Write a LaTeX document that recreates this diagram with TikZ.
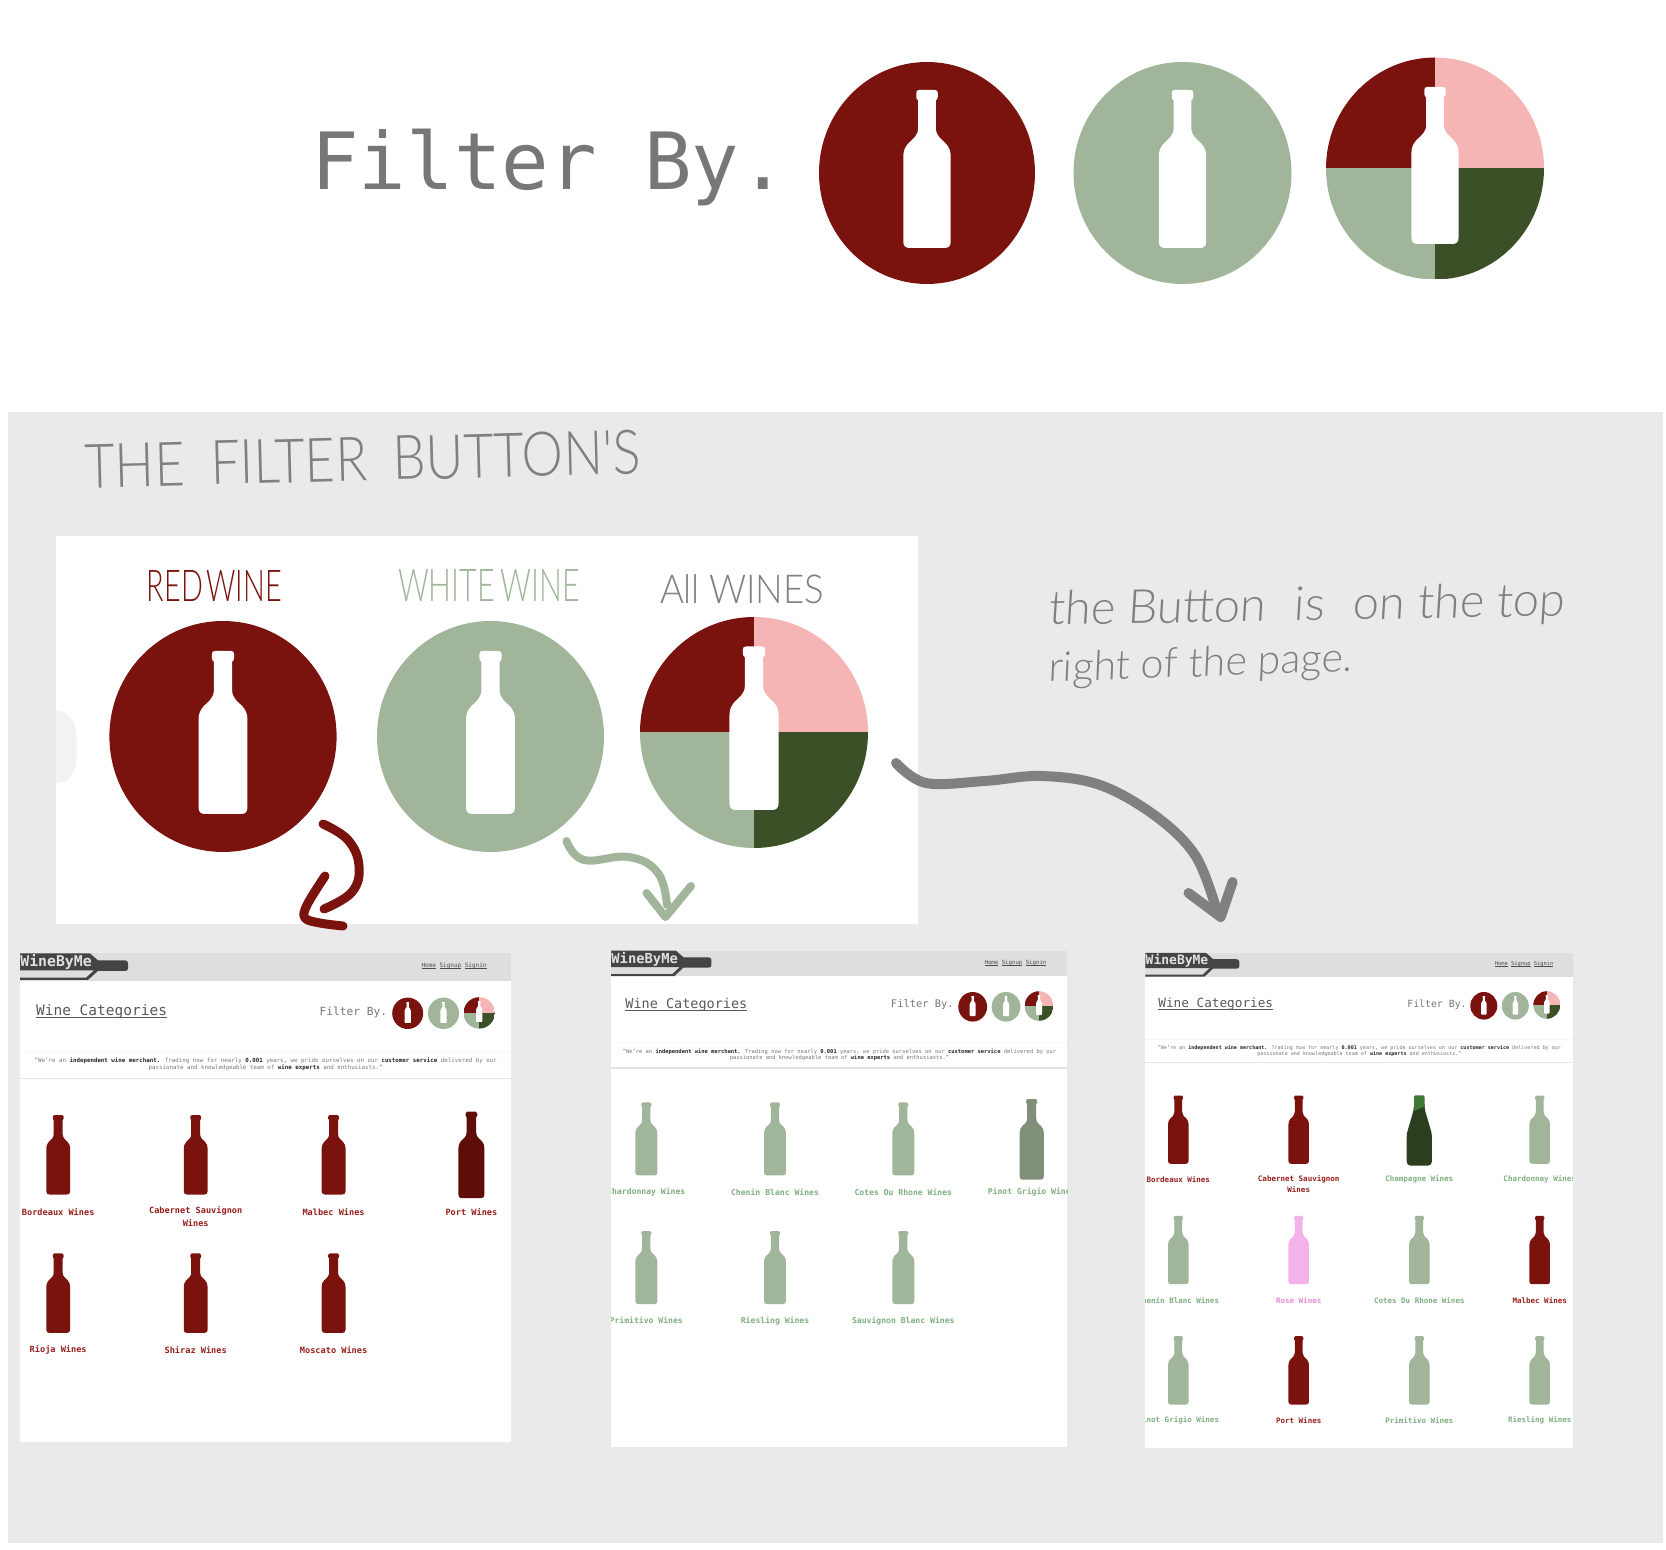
\documentclass[tikz,border=0pt]{standalone}
\usepackage{fontspec}
\setmainfont{DejaVu Sans Mono}
\setmonofont{DejaVu Sans Mono}
\newfontfamily\handfont[FakeSlant=0.08]{Lato Light}
\newfontfamily\capsfont{Lato Light}
\definecolor{wred}{HTML}{7A130E}
\definecolor{wdark}{HTML}{5E0E08}
\definecolor{sage}{HTML}{A1B59B}
\definecolor{sagedark}{HTML}{7F8F78}
\definecolor{wpink}{HTML}{F5B5B5}
\definecolor{wgreen}{HTML}{3B5027}
\definecolor{panel}{HTML}{EAEAEA}
\definecolor{headbar}{HTML}{DEDEDE}
\definecolor{logoc}{HTML}{444444}
\definecolor{inkgray}{HTML}{808080}
\definecolor{txtgray}{HTML}{777777}
\definecolor{labred}{HTML}{96201C}
\definecolor{labgreen}{HTML}{7FAF82}
\definecolor{labpink}{HTML}{E589D8}
\definecolor{rosefill}{HTML}{F4B2EA}
\definecolor{champ}{HTML}{2B3F1E}
\definecolor{champtop}{HTML}{3F7A35}
\newcounter{nn}
\newcommand{\nnext}{\stepcounter{nn}}
\newcommand{\ulx}[1]{\leavevmode\setbox0\hbox{#1}\rlap{\rule[-0.13em]{\wd0}{0.06em}}\box0}
\newcommand{\fs}[1]{\fontsize{#1}{#1}\selectfont}
\newcommand{\bottlepath}{(-5,0) -- (5,0) .. controls (6.3,0) and (6.8,0.6) .. (6.8,2) -- (6.8,4.5) .. controls (6.8,5.6) and (6.2,6.2) .. (5.6,6.5) -- (5.6,24) .. controls (5.6,29) and (9,31) .. (12,34) .. controls (14,36.5) and (15,38.5) .. (15,42) -- (15,96) .. controls (15,98.8) and (13.5,100) .. (11,100) -- (-11,100) .. controls (-13.5,100) and (-15,98.8) .. (-15,96) -- (-15,42) .. controls (-15,38.5) and (-14,36.5) .. (-12,34) .. controls (-9,31) and (-5.6,29) .. (-5.6,24) -- (-5.6,6.5) .. controls (-6.2,6.2) and (-6.8,5.6) .. (-6.8,4.5) -- (-6.8,2) .. controls (-6.8,0.6) and (-6.3,0) .. (-5,0) -- cycle}
\newcommand{\wbottle}[4]{\fill[#4,shift={(#1,#2)},scale=#3/100] \bottlepath;}
\newcommand{\redc}[7]{\fill[#7] (#1,#2) ellipse [x radius=#3,y radius=#4]; \wbottle{#1}{#5}{#6}{white}}
\newcommand{\allc}[6]{%
  \begin{scope}
    \clip (#1,#2) ellipse [x radius=#3,y radius=#4];
    \fill[wred] ({#1-#3},{#2-#4}) rectangle (#1,#2);
    \fill[wpink] (#1,{#2-#4}) rectangle ({#1+#3},#2);
    \fill[sage] ({#1-#3},#2) rectangle (#1,{#2+#4});
    \fill[wgreen] (#1,#2) rectangle ({#1+#3},{#2+#4});
  \end{scope}
  \wbottle{#1}{#5}{#6}{white}}
\newcommand{\thumbframe}[7]{%
  \fill[white] (#1,#2) rectangle (#3,#5);
  \fill[headbar] (#1,#2) rectangle (#3,#4);
  \fill[white] (#1,#4) rectangle (#3,#5);
  \fill[black!3] (#1,#7) rectangle (#3,{#7+0.8});
  \fill[black!10] (#1,#6) rectangle (#3,{#6+1.6});}
\newcommand{\thumblogo}[5]{%
  \begin{scope}[shift={(#1,#2)},xscale=#3,yscale=#4]
    \fill[logoc] (0,0) -- (70,0) -- (78,7) -- (105,7) .. controls (107,7) and (108,8) .. (108,10) -- (108,15) .. controls (108,17) and (107,17.5) .. (105,17.5) -- (78,17.5) -- (68,26.5) -- (0,26.5) -- (0,24.3) -- (66,24.3) -- (74,17) -- (0,17) -- cycle;
    \nnext\node[anchor=west,inner sep=0pt,text=black!12,font=\fs{#5}\bfseries] (n\thenn) at (0,8.5) {WineByMe};
  \end{scope}}
\newcommand{\navbar}[3]{\nnext\node[inner sep=0pt,text=black!70,font=\fs{#3}] (n\thenn) at (#1,#2) {\ulx{Home}\hspace{.6em}\ulx{Signup}\hspace{.6em}\ulx{Signin}};}
\newcommand{\wcat}[3]{\nnext\node[anchor=west,inner sep=0pt,text=black!65,font=\fs{#3}] (n\thenn) at (#1,#2) {\ulx{Wine Categories}};}
\newcommand{\fby}[3]{\nnext\node[anchor=east,inner sep=0pt,text=txtgray,font=\fs{#3}] (n\thenn) at (#1,#2) {Filter By.};}
\newcommand{\quotetxt}[4]{%
  \nnext\node[inner sep=0pt,text=txtgray,font=\fs{#4}] (n\thenn) at (#1,#2) {"We're an \textbf{\textcolor{black!85}{independent wine merchant.}} Trading now for nearly \textbf{\textcolor{black!85}{0.001}} years, we pride ourselves on our \textbf{\textcolor{black!85}{customer service}} delivered by our};
  \nnext\node[inner sep=0pt,text=txtgray,font=\fs{#4}] (n\thenn) at (#1,#3) {passionate and knowledgeable team of \textbf{\textcolor{black!85}{wine experts}} and enthusiasts."};}
\newcommand{\labpt}{4}
\newcommand{\wineitem}[7]{\wbottle{#1}{#2}{#3}{#4}\nnext\node[inner sep=0pt,text=#6,font=\fs{\labpt}\bfseries,align=center] (n\thenn) at (#1,#5) {#7};}
\tikzset{capshand/.style={inner sep=0pt,font=\capsfont},
  notehand/.style={inner sep=0pt,font=\handfont},
  inkline/.style={line cap=round,line join=round}}
\begin{document}
\begin{tikzpicture}[x=0.5pt,y=-0.5pt]
\useasboundingbox (0,0) rectangle (1666,1550);
\fill[white] (0,0) rectangle (1666,1550);
\node[anchor=base west,inner sep=0pt,text=txtgray,font=\fs{39.5}] (filterbig) at (311,190) {Filter By.};
\redc{927}{173}{108}{111}{90}{158}{wred}
\redc{1182.5}{173}{109}{111}{90}{158}{sage}
\allc{1435}{168.5}{109}{111}{87}{157}
\fill[panel] (8,412) rectangle (1663,1543);
\node[capshand,text=inkgray,rotate=1.5] (ttl) at (363,459) {\resizebox{278pt}{22pt}{THE\hspace{.5em}FILTER\hspace{.5em}BUTTON'S}};
\fill[white] (56,536) rectangle (918,924);
\fill[black!5] (56,711) .. controls (72,711) and (77,725) .. (77,747) .. controls (77,770) and (72,783) .. (56,783) -- cycle;
\node[capshand,text=wred] (lr) at (214.5,586) {\resizebox{67.5pt}{15.5pt}{RED\hspace{.12em}WINE}};
\node[capshand,text=sage] (lw) at (489,586) {\resizebox{91pt}{16pt}{WHITE\hspace{.2em}WINE}};
\node[capshand,text=inkgray] (la) at (742,589) {\resizebox{82pt}{14.5pt}{All\hspace{.25em}WINES}};
\redc{223}{736.5}{113.6}{115.5}{651}{163}{wred}
\redc{490.5}{736.5}{113.5}{115.5}{651}{163}{sage}
\allc{754}{732.5}{114}{115.5}{646.5}{163.5}
\node[notehand,text=inkgray,anchor=base west,rotate=1] (note1) at (1048,625) {\resizebox{258pt}{!}{the Button\hspace{.6em}is\hspace{.6em}on the top}};
\node[notehand,text=inkgray,anchor=base west,rotate=2] (note2) at (1048,682) {\resizebox{152pt}{!}{right of the page.}};
\thumbframe{20.4}{953.4}{510.7}{980.7}{1442}{1077.6}{1051}
\thumblogo{20}{953.4}{1}{1}{7.4}
\navbar{454}{966}{3}
\wcat{35.7}{1012}{7.25}
\fby{387.5}{1012}{5.6}
\redc{407.7}{1013.3}{15.5}{15.7}{1002}{21}{wred}
\redc{443.5}{1013.3}{15.5}{15.7}{1002}{21}{sage}
\allc{479.2}{1012.9}{15.7}{15.7}{1001}{21}
\quotetxt{265.7}{1061}{1068}{2.9}
\renewcommand{\labpt}{4.3}
\wineitem{58.2}{1115}{79.5}{wred}{1212}{labred}{Bordeaux Wines}
\wineitem{195.7}{1115}{79.5}{wred}{1217}{labred}{Cabernet Sauvignon\\[1.1pt]Wines}
\wineitem{333.6}{1115}{79.5}{wred}{1212}{labred}{Malbec Wines}
\wineitem{471.4}{1111.7}{86.5}{wdark}{1212}{labred}{Port Wines}
\wineitem{58.2}{1253.4}{79.5}{wred}{1349.7}{labred}{Rioja Wines}
\wineitem{195.7}{1253.4}{79.5}{wred}{1349.7}{labred}{Shiraz Wines}
\wineitem{333.6}{1253.4}{79.5}{wred}{1349.7}{labred}{Moscato Wines}
\thumbframe{611}{950.7}{1067.3}{976}{1447}{1067}{1042}
\thumblogo{611}{950.7}{0.93}{0.96}{6.9}
\navbar{1015.5}{962.8}{2.85}
\wcat{625}{1005}{6.75}
\fby{954}{1005}{5.2}
\redc{972.7}{1006.8}{14.4}{14.8}{996}{20}{wred}
\redc{1006}{1006.8}{14.4}{14.8}{996}{20}{sage}
\allc{1039}{1006}{14.4}{14.8}{995}{20}
\quotetxt{839.5}{1051.4}{1058.3}{2.72}
\renewcommand{\labpt}{4.05}
\begin{scope}
\clip (611,1090) rectangle (1067.3,1340);
\wineitem{646.3}{1102.4}{73}{sage}{1192}{labgreen}{Chardonnay Wines}
\wineitem{775}{1102.4}{73}{sage}{1192}{labgreen}{Chenin Blanc Wines}
\wineitem{903.3}{1102.4}{73}{sage}{1192}{labgreen}{Cotes Du Rhone Wines}
\wineitem{1031.7}{1099}{80.7}{sagedark}{1192}{labgreen}{Pinot Grigio Wines}
\wineitem{646.3}{1231}{73}{sage}{1320.7}{labgreen}{Primitivo Wines}
\wineitem{775}{1231}{73}{sage}{1320.7}{labgreen}{Riesling Wines}
\wineitem{903.3}{1231}{73}{sage}{1320.7}{labgreen}{Sauvignon Blanc Wines}
\end{scope}
\thumbframe{1145.3}{953}{1572.7}{976.5}{1448}{1061.7}{1039}
\thumblogo{1145.3}{953}{0.87}{0.89}{6.5}
\navbar{1524}{964.5}{2.7}
\wcat{1158}{1004.5}{6.35}
\fby{1467}{1004.5}{4.92}
\redc{1483.8}{1005.8}{13.5}{13.8}{996}{18.5}{wred}
\redc{1515.3}{1005.8}{13.5}{13.8}{996}{18.5}{sage}
\allc{1546.8}{1005}{13.5}{13.8}{995}{18.5}
\quotetxt{1359.4}{1048}{1054}{2.53}
\renewcommand{\labpt}{3.76}
\begin{scope}
\clip (1145.3,1090) rectangle (1572.7,1440);
\wineitem{1178.3}{1095.5}{68.3}{wred}{1179.7}{labred}{Bordeaux Wines}
\wineitem{1298.7}{1095.5}{68.3}{wred}{1184}{labred}{Cabernet Sauvignon\\[0.9pt]Wines}
\begin{scope}[shift={(1419.3,1095.5)},scale=0.7]
  \fill[champ] (-5,0) -- (5,0) .. controls (6.5,0) and (7.3,1) .. (7.3,3) -- (7.3,10) .. controls (7.3,14) and (7.5,18) .. (9,24) -- (16,48) .. controls (17.5,52) and (18,55) .. (18,60) -- (18,94) .. controls (18,98) and (16,100) .. (13,100) -- (-13,100) .. controls (-16,100) and (-18,98) .. (-18,94) -- (-18,60) .. controls (-18,55) and (-17.5,52) .. (-16,48) -- (-9,24) .. controls (-7.5,18) and (-7.3,14) .. (-7.3,10) -- (-7.3,3) .. controls (-7.3,1) and (-6.5,0) .. (-5,0) -- cycle;
  \begin{scope}
    \clip (-12,-1) -- (12,-1) -- (12,14) -- (-12,24) -- cycle;
    \fill[champtop] (-5,0) -- (5,0) .. controls (6.5,0) and (7.3,1) .. (7.3,3) -- (7.3,10) .. controls (7.3,14) and (7.5,18) .. (9,24) -- (-9,24) .. controls (-7.5,18) and (-7.3,14) .. (-7.3,10) -- (-7.3,3) .. controls (-7.3,1) and (-6.5,0) .. (-5,0) -- cycle;
  \end{scope}
\end{scope}
\node[inner sep=0pt,text=labgreen,font=\fs{\labpt}\bfseries] (champlab) at (1419.3,1179.7) {Champagne Wines};
\wineitem{1539.7}{1095.5}{68.3}{sage}{1179.7}{labgreen}{Chardonnay Wines}
\wineitem{1178.3}{1215.9}{68.3}{sage}{1300}{labgreen}{Chenin Blanc Wines}
\wineitem{1298.7}{1215.9}{68.3}{rosefill}{1300}{labpink}{Rose Wines}
\wineitem{1419.3}{1215.9}{68.3}{sage}{1300}{labgreen}{Cotes Du Rhone Wines}
\wineitem{1539.7}{1215.9}{68.3}{wred}{1300}{labred}{Malbec Wines}
\wineitem{1178.3}{1336.2}{68.3}{sage}{1420.7}{labgreen}{Pinot Grigio Wines}
\wineitem{1298.7}{1336.2}{68.3}{wred}{1420.7}{labred}{Port Wines}
\wineitem{1419.3}{1336.2}{68.3}{sage}{1420.7}{labgreen}{Primitivo Wines}
\wineitem{1539.7}{1336.2}{68.3}{sage}{1420.7}{labgreen}{Riesling Wines}
\end{scope}
\coordinate (redstart) at (323,824);
\coordinate (redbarb) at (325,876);
\coordinate (redtip) at (305,918);
\coordinate (redend) at (343,926);
\draw[inkline,wred,line width=4.5pt] plot[smooth,tension=0.7] coordinates {(redstart) (348,840) (359,866) (352,892) (324,909)};
\draw[inkline,wred,line width=4.5pt] plot[smooth,tension=0.6] coordinates {(redbarb) (307,905) (redtip) (320,923) (redend)};
\coordinate (grstart) at (566.5,841);
\coordinate (gbarb1) at (646.5,893);
\coordinate (gtip) at (665.5,917);
\coordinate (gbarb2) at (691,886);
\draw[inkline,sage,line width=4pt] plot[smooth,tension=0.7] coordinates {(grstart) (584,860) (629,857) (658,873) (667,905)};
\draw[inkline,sage,line width=4pt] (gbarb1) -- (gtip) -- (gbarb2);
\coordinate (kstart) at (896,763);
\coordinate (kbarb1) at (1188.5,893);
\coordinate (ktip) at (1220.7,917);
\coordinate (kbarb2) at (1232.6,882);
\draw[inkline,inkgray,line width=5pt] plot[smooth,tension=0.6] coordinates {(kstart) (926,783) (985,781) (1041,776) (1100,785) (1155.5,816) (1195,855) (1215,905)};
\draw[inkline,inkgray,line width=5pt] (kbarb1) -- (ktip) -- (kbarb2);
\end{tikzpicture}
\end{document}
